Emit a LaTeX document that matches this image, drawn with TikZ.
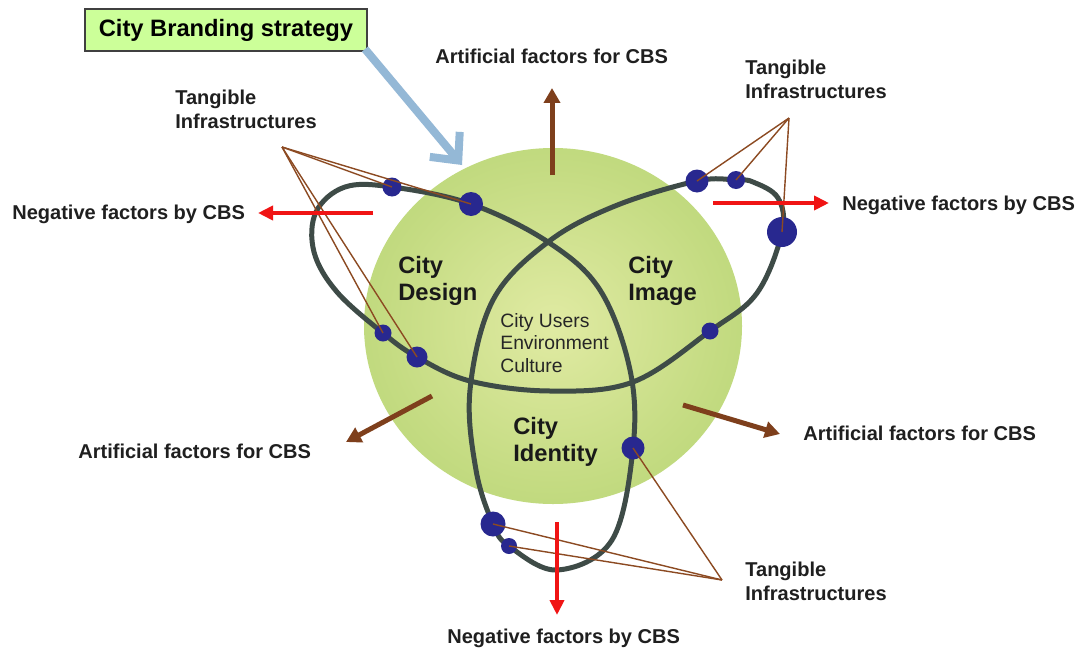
\documentclass[tikz,border=0pt]{standalone}
\usepackage{fontspec}
\setmainfont{Liberation Sans}
\usepackage{tikz}
\usetikzlibrary{arrows.meta}
\definecolor{knotgray}{HTML}{3E4B47}
\definecolor{dotblue}{HTML}{28288F}
\definecolor{tanbrown}{HTML}{8C4A22}
\definecolor{artbrown}{HTML}{7E3F1C}
\definecolor{negred}{HTML}{F01414}
\definecolor{boxgreen}{HTML}{CCFF99}
\definecolor{skyarrow}{HTML}{94B8D6}
\pgfdeclareradialshading{ballshade}{\pgfpoint{0bp}{0bp}}{rgb(0bp)=(0.88,0.92,0.64); rgb(22bp)=(0.77,0.86,0.51); rgb(50bp)=(0.63,0.80,0.38)}

\begin{document}
\begin{tikzpicture}[x=0.02cm, y=-0.02cm, >=Stealth,
  lbl/.style={font=\bfseries\fontsize{11.4}{13.6}\selectfont, text=black!88, inner sep=0pt, align=left},
  area/.style={font=\bfseries\fontsize{13.5}{15.5}\selectfont, text=black!90, inner sep=0pt, align=left},
  dot/.style={circle, fill=dotblue, inner sep=0pt},
  knot/.style={draw=knotgray, line width=0.1cm},
  tang/.style={draw=tanbrown, line width=0.8pt},
  artarrow/.style={draw=artbrown, line width=0.1cm, -{Triangle[length=0.3cm,width=0.32cm]}},
  negarrow/.style={draw=negred, line width=0.08cm, -{Triangle[length=0.3cm,width=0.28cm]}}]
  \fill[white] (0,0) rectangle (1084,659);
  \useasboundingbox (0,0) rectangle (1084,659);
  % Sphere
  \shade[shading=ballshade] (553,326) ellipse [x radius=189, y radius=178];
  % Knot
  \draw[knot] plot[smooth cycle, tension=0.6] coordinates {(548,242) (471,204) (392,187) (345,187) (316,212) (314,252) (337,292) (383,333) (417,357) (470,381) (550,391) (633,382) (710,331) (757,293) (782,232) (778,198) (753,182) (736,180) (697,181) (615,206) (548,242) (493,300) (470,390) (476,470) (493,524) (509,546) (557,570) (612,540) (633,448) (630,370) (600,290)};
  % Dots
  \foreach \n/\x/\y/\d in {tl1/392/187/19, tl2/471/204/24, tl3/383/333/17, tl4/417/357/21,
      tr1/697/181/23, tr2/736/180/18, tr3/782/232/30, r4/710/331/17,
      br1/633/448/23, br2/493/524/25, br3/509/546/16}
    \node[dot, minimum size=\d*0.02cm] (\n) at (\x,\y) {};
  % Tangible infrastructures
  \node[lbl, anchor=north west] (tang-tl) at (175,90) {Tangible\\Infrastructures};
  \node[lbl, anchor=north west] (tang-tr) at (745,60) {Tangible\\Infrastructures};
  \node[lbl, anchor=north west] (tang-br) at (745,562) {Tangible\\Infrastructures};
  \coordinate (ap-tl) at (282,147);
  \coordinate (ap-tr) at (789,118);
  \coordinate (ap-br) at (722,580);
  \foreach \t in {tl1,tl2,tl3,tl4} \draw[tang] (ap-tl) -- (\t.center);
  \foreach \t in {tr1,tr2,tr3} \draw[tang] (ap-tr) -- (\t.center);
  \foreach \t in {br1,br2,br3} \draw[tang] (ap-br) -- (\t.center);
  % Areas
  \node[area, anchor=north west] (design) at (398,256) {City\\Design};
  \node[area, anchor=north west] (image) at (628,256) {City\\Image};
  \node[area, anchor=north west] (identity) at (513,417) {City\\Identity};
  \node[font=\fontsize{11}{12.8}\selectfont, text=black!85, inner sep=0pt, align=left, anchor=north west] (core) at (500,313) {City Users\\Environment\\Culture};
  % Strategy box
  \node[draw=black!75, line width=1.2pt, fill=boxgreen, minimum width=5.64cm, minimum height=0.84cm,
    font=\bfseries\fontsize{13.5}{15}\selectfont] (cbs) at (226,30) {City Branding strategy};
  \coordinate (cbs-tip) at (462,165);
  \draw[skyarrow, line width=0.16cm, -{Straight Barb[length=0.42cm,width=0.78cm]}] (cbs.south east) ++(-3,-3) -- (cbs-tip);
  % Artificial factors
  \node[lbl, anchor=base west] (art-t) at (435,63) {Artificial factors for CBS};
  \node[lbl, anchor=base west] (art-l) at (78,458) {Artificial factors for CBS};
  \node[lbl, anchor=base west] (art-r) at (803,440) {Artificial factors for CBS};
  \coordinate (at0) at (552,175); \coordinate (at1) at (552,88);
  \coordinate (al0) at (432,396); \coordinate (al1) at (346,442);
  \coordinate (ar0) at (683,405); \coordinate (ar1) at (780,434);
  \draw[artarrow] (at0) -- (at1);
  \draw[artarrow] (al0) -- (al1);
  \draw[artarrow] (ar0) -- (ar1);
  % Negative factors
  \node[lbl, anchor=base west] (neg-l) at (12,219) {Negative factors by CBS};
  \node[lbl, anchor=base west] (neg-r) at (842,210) {Negative factors by CBS};
  \node[lbl, anchor=base west] (neg-b) at (447,643) {Negative factors by CBS};
  \coordinate (nl0) at (373,213); \coordinate (nl1) at (258,213);
  \coordinate (nr0) at (713,203); \coordinate (nr1) at (829,203);
  \coordinate (nb0) at (557,522); \coordinate (nb1) at (557,615);
  \draw[negarrow] (nl0) -- (nl1);
  \draw[negarrow] (nr0) -- (nr1);
  \draw[negarrow] (nb0) -- (nb1);
\end{tikzpicture}
\end{document}
